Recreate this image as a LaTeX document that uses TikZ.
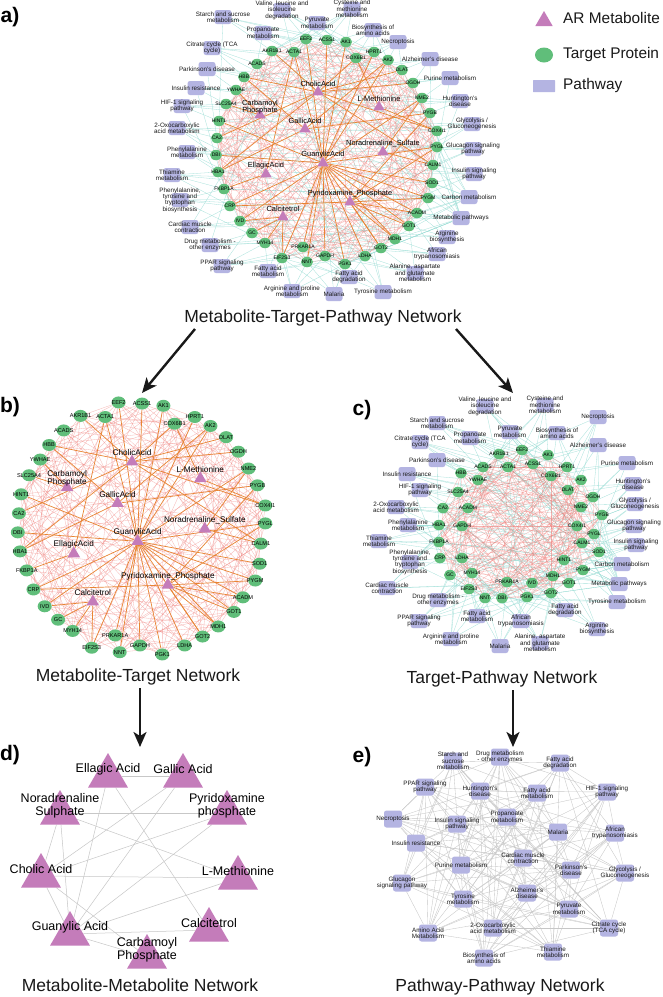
\documentclass[tikz,border=0pt]{standalone}
\usepackage{fontspec}
\setmainfont{Liberation Sans}
\usetikzlibrary{positioning,shapes.geometric,arrows.meta}

\definecolor{metabcol}{RGB}{196,124,186}
\definecolor{targetcol}{RGB}{96,190,122}
\definecolor{pathcol}{RGB}{180,180,226}
\definecolor{mtcol}{RGB}{232,132,50}
\definecolor{ttcol}{RGB}{240,120,115}
\definecolor{tpcol}{RGB}{150,220,212}

\pgfdeclarelayer{bg}
\pgfdeclarelayer{edges}
\pgfsetlayers{bg,edges,main}

% name / x,y in a / x,y in c
\newcommand\targets{EEF2/306/39/522/450, ACSS1/327/40/533/464, AK1/346/42/548/455,
AKR1B1/272/51/499/454, ACTA1/294/52/508/467, HPRT1/374/52/567/467, COX6B1/356/58/551/476,
AK2/388/60/581/480, ACADS/257/64/483/467, DLAT/402/70/568/490, HBB/244/77/461/473,
OGDH/413/83/593/497, YWHAE/236/90/478/480, NME2/422/98/581/507, SLC25A4/226/104/458/492,
PYGB/430/113/602/515, HINT1/219/121/564/560, COX4I1/437/131/577/526, CA2/217/138/443/508,
PYGL/437/147/594/534, DBI/216/155/502/598, CALM1/433/165/582/543, HBA1/218/172/439/525,
SOD1/432/183/599/552, FKBP1A/224/189/439/542, PYGM/428/198/583/570, CRP/230/206/440/558,
ACADM/417/213/468/508, IVD/240/221/532/583, GOT1/409/226/569/583, GC/252/233/450/575,
MDH1/395/239/553/576, MYH14/265/243/472/573, GOT2/381/248/551/593, PRKAR1A/303/247/507/582,
LDHA/365/256/462/558, GAPDH/325/256/462/526, EIF2S3/282/258/469/589, NNT/307/262/485/598,
PGK1/345/264/527/597}

\newcommand\metabs{Cholic/318/92/CholicAcid, LMet/379/107/L-Methionine,
Carb/260/115/{Carbamoyl\\Phosphate}, Gallic/305/129/GallicAcid,
Nora/383/152/Noradrenaline\_Sulfate, Guan/323/163/GuanylicAcid,
Ellagic/266/174/EllagicAcid, Pyri/350/202/Pyridoxamine\_Phosphate, Calci/283/217/Calcitetrol}

% name / x,y in a / x,y in c / text
\newcommand\pathways{val/282/10/485/406/{Valine, leucine and\\isoleucine\\degradation},
cys/352/9/545/405/{Cysteine and\\methionine\\metabolism},
sta/223/17/437/423/{Starch and sucrose\\metabolism},
pyr/317/23/510/432/{Pyruvate\\metabolism},
bio/373/30/557/433/{Biosynthesis of\\amino acids},
pro/263/33/470/438/{Propanoate\\metabolism},
nec/398/42/598/417/{Necroptosis},
cit/212/48/420/442/{Citrate cycle (TCA\\cycle)},
alz/430/59/598/445/{Alzheimer's disease},
par/207/69/437/460/{Parkinson's disease},
pur/450/78/627/463/{Purine metabolism},
ire/196/88/407/474/{Insulin resistance},
hun/460/101/633/484/{Huntington's\\disease},
hif/182/106/420/490/{HIF-1 signaling\\pathway},
gly/472/124/635/504/{Glycolysis /\\Gluconeogenesis},
oxo/177/128/396/507/{2-Oxocarboxylic\\acid metabolism},
glu/473/149/634/526/{Glucagon signaling\\pathway},
phe/187/152/408/525/{Phenylalanine\\metabolism},
isp/474/174/636/545/{Insulin signaling\\pathway},
thi/172/175/379/541/{Thiamine\\metabolism},
car/469/197/622/564/{Carbon metabolism},
pty/180/200/410/562/{Phenylalanine,\\tyrosine and\\tryptophan\\biosynthesis},
met/461/218/619/584/{Metabolic pathways},
cmc/190/227/387/588/{Cardiac muscle\\contraction},
arb/447/237/597/629/{Arginine\\biosynthesis},
dru/210/245/438/600/{Drug metabolism -\\other enzymes},
afr/437/254/521/621/{African\\trypanosomiasis},
ppa/222/266/419/621/{PPAR signaling\\pathway},
fam/268/271/477/616/{Fatty acid\\metabolism},
ala/415/273/540/643/{Alanine, aspartate\\and glutamate\\metabolism},
fad/349/277/565/610/{Fatty acid\\degradation},
arp/292/291/451/639/{Arginine and proline\\metabolism},
mal/334/294/500/646/{Malaria},
tyr/383/292/617/602/{Tyrosine metabolism}}

\newcommand\pathwaysE{sta/453/761/{Starch and\\sucrose\\metabolism},
dru/500/757/{Drug metabolism\\- other enzymes}, fad/560/763/{Fatty acid\\degradation},
ppa/425/787/{PPAR signaling\\pathway}, hun/480/791/{Huntington's\\disease},
fam/537/793/{Fatty acid\\metabolism}, hif/607/792/{HIF-1 signaling\\pathway},
nec/393/819/{Necroptosis}, isp/457/824/{Insulin signaling\\pathway},
pro/507/817/{Propanoate\\metabolism}, mal/558/832/{Malaria},
afr/615/833/{African\\trypanosomiasis}, ire/416/843/{Insulin resistance},
pur/461/865/{Purine metabolism}, cmc/523/858/{Cardiac muscle\\contraction},
par/571/870/{Parkinson's\\disease}, gly/625/873/{Glycolysis /\\Gluconeogenesis},
glu/402/883/{Glucagon\\signaling pathway}, alz/527/893/{Alzheimer's\\disease},
tyr/463/899/{Tyrosine\\metabolism}, pyr/569/909/{Pyruvate\\metabolism},
cit/609/928/{Citrate cycle\\(TCA cycle)}, ami/428/933/{Amino Acid\\Metabolism},
oxo/493/928/{2-Oxocarboxylic\\acid metabolism}, thi/553/952/{Thiamine\\metabolism},
bio/484/958/{Biosynthesis of\\amino acids}}

\newcommand\metabsD{ell/108/771/{Ellagic Acid}, gal/183/771/{Gallic Acid},
nor/60/808/{Noradrenaline\\Sulphate}, pyx/227/808/{Pyridoxamine\\phosphate},
cho/41/871/{Cholic Acid}, lme/238/873/{L-Methionine}, gua/70/929/{Guanylic Acid},
cal/209/925/{Calcitetrol}, cbp/147/952/{Carbamoyl\\Phosphate}}

\newcommand\mtedges{Guan/ACSS1, Guan/AK1, Guan/HPRT1, Guan/AK2, Guan/NME2, Guan/PYGL,
Guan/SOD1, Guan/PYGM, Guan/ACADM, Guan/GOT1, Guan/MDH1, Guan/GOT2, Guan/LDHA, Guan/PGK1,
Guan/GAPDH, Guan/NNT, Guan/PRKAR1A, Guan/EIF2S3, Guan/CRP, Guan/DBI, Guan/HINT1,
Guan/ACTA1, Guan/EEF2, Guan/IVD, Cholic/HBB, Cholic/AKR1B1, Cholic/OGDH, Cholic/DLAT,
Cholic/COX4I1, Cholic/CALM1, Cholic/HBA1, Cholic/CA2, Cholic/COX6B1, LMet/COX6B1,
LMet/COX4I1, Carb/YWHAE, Carb/SLC25A4, Gallic/HBA1, Gallic/HBB, Gallic/AK2, Gallic/PYGB,
Nora/NME2, Nora/CALM1, Ellagic/FKBP1A, Ellagic/ACTA1, Pyri/PYGB, Pyri/PYGL, Pyri/PYGM,
Pyri/GOT1, Pyri/GOT2, Pyri/MDH1, Pyri/ACADM, Pyri/CRP, Calci/GC, Calci/MYH14,
Calci/IVD, Calci/EIF2S3}

\newcommand\mmedges{ell/gal, ell/gua, ell/cal, gal/cho, gal/gua, nor/pyx, nor/lme,
nor/cho, nor/gua, pyx/cho, pyx/gua, cho/lme, cho/gua, cho/cbp, lme/gua, gua/cal, gua/cbp}

\begin{document}
\begin{tikzpicture}[x=1pt, y=-1pt,
target/.style={ellipse, fill=targetcol, minimum width=12pt, minimum height=10.5pt,
  inner sep=0pt, font=\fontsize{5}{5}\selectfont},
targetb/.style={minimum width=14pt, minimum height=12pt, font=\fontsize{5.6}{6}\selectfont},
metab/.style={regular polygon, regular polygon sides=3, fill=metabcol,
  minimum size=13pt, inner sep=0pt},
metabb/.style={minimum size=14.5pt},
metabd/.style={metab, minimum size=46pt},
metlbl/.style={font=\fontsize{7.4}{7.6}\selectfont, align=center, inner sep=0pt},
metlblb/.style={font=\fontsize{8.2}{8.4}\selectfont},
mmlbl/.style={font=\fontsize{12.5}{12.5}\selectfont, align=center, inner sep=0pt},
pathsq/.style={rectangle, rounded corners=2.5pt, fill=pathcol, minimum width=17pt,
  minimum height=14pt, inner sep=0pt},
pathe/.style={minimum width=18pt, minimum height=17pt},
pathlbl/.style={font=\fontsize{6.3}{6.4}\selectfont, align=center, inner sep=0pt, text=black!90},
ttl/.style={font=\fontsize{17.5}{20}\selectfont, inner sep=0pt, text=black!90},
panel/.style={font=\fontsize{21}{21}\selectfont\bfseries, inner sep=0pt},
legtxt/.style={font=\fontsize{15.4}{16}\selectfont, inner sep=0pt, text=black!90},
ttedge/.style={draw=ttcol, line width=0.3pt, opacity=0.55},
tpedge/.style={draw=tpcol, line width=0.3pt, opacity=0.85},
mtedge/.style={draw=mtcol, line width=0.7pt},
mmedge/.style={draw=black!22, line width=0.5pt},
ppedge/.style={draw=black!22, line width=0.35pt},
flow/.style={-{Stealth[length=15pt,width=13pt,inset=4pt]}, line width=2.4pt, black!90}]

\begin{pgfonlayer}{bg}
\fill[white] (0,0) rectangle (662,997);
\end{pgfonlayer}
\useasboundingbox (0,0) rectangle (662,997);

% panel letters
\node[panel] (lbl-a) at (10,17) {a)};
\node[panel] (lbl-b) at (10,407) {b)};
\node[panel] (lbl-c) at (362,410) {c)};
\node[panel] (lbl-d) at (10,755) {d)};
\node[panel] (lbl-e) at (362,757) {e)};

% legend
\node[metab, minimum size=20pt] (leg-m) at (544,21) {};
\node[legtxt] (leg-m-t) [right=19pt of leg-m.center, yshift=3pt] {AR Metabolite};
\node[target, minimum width=18pt, minimum height=15pt] (leg-t) at (544,55) {};
\node[legtxt] (leg-t-t) [right=19pt of leg-t.center] {Target Protein};
\node[pathsq, minimum width=22pt, minimum height=12pt, rounded corners=0.5pt] (leg-p) at (544,86) {};
\node[legtxt] (leg-p-t) [right=19pt of leg-p.center] {Pathway};

% targets of a, b (a scaled) and c
\foreach \n/\xa/\ya/\xc/\yc [count=\i] in \targets {
  \node[target, alias=a\i] (a-\n) at (\xa,\ya) {\makebox[0pt]{\n}};
  \node[target, targetb, alias=b\i] (b-\n) at ({141+1.12*(\xa-326)},{529+1.12*(\ya-152)}) {\makebox[0pt]{\n}};
  \node[target, alias=c\i] (c-\n) at (\xc,\yc) {\makebox[0pt]{\n}};
}

% metabolites of a and b
\foreach \n/\xa/\ya/\t in \metabs {
  \node[metab] (a-\n) at (\xa,\ya) {};
  \node[metlbl] (a-\n-l) at (\xa,\ya-8) {\t};
  \node[metab, metabb] (b-\n) at ({141+1.12*(\xa-326)},{529+1.12*(\ya-152)}) {};
  \node[metlbl, metlblb] (b-\n-l) at ({141+1.12*(\xa-326)},{529+1.12*(\ya-160)}) {\t};
}

% pathways of a and c
\foreach \n/\xa/\ya/\xc/\yc/\t [count=\p] in \pathways {
  \node[pathsq, alias=pa\p] (a-\n) at (\xa,\ya) {};
  \node[pathlbl] (a-\n-t) at (\xa,\ya) {\t};
  \node[pathsq, alias=pc\p] (c-\n) at (\xc,\yc) {};
  \node[pathlbl] (c-\n-t) at (\xc,\yc) {\t};
}

% metabolite-metabolite
\foreach \n/\x/\y/\t in \metabsD {
  \node[metabd] (d-\n) at (\x,\y+5) {};
  \node[mmlbl] (d-\n-l) at (\x,\y-2) {\t};
}

% pathway-pathway
\foreach \n/\x/\y/\t [count=\p] in \pathwaysE {
  \node[pathsq, pathe, alias=e\p] (e-\n) at (\x,\y) {};
  \node[pathlbl] (e-\n-t) at (\x,\y) {\t};
}

% titles
\node[ttl] (ttl-a) at (323,318) {Metabolite-Target-Pathway Network};
\node[ttl] (ttl-b) at (138,677) {Metabolite-Target Network};
\node[ttl] (ttl-c) at (502,679) {Target-Pathway Network};
\node[ttl] (ttl-d) at (140,985) {Metabolite-Metabolite Network};
\node[ttl] (ttl-e) at (500,987) {Pathway-Pathway Network};

% arrows between panels
\coordinate (ab-from) at (195,329);
\coordinate (ab-to) at (142,393);
\coordinate (ac-from) at (456,329);
\coordinate (ac-to) at (513,393);
\coordinate (bd-from) at (140,688);
\coordinate (bd-to) at (140,747);
\coordinate (ce-from) at (513,690);
\coordinate (ce-to) at (513,747);
\draw[flow] (ab-from) -- (ab-to);
\draw[flow] (ac-from) -- (ac-to);
\draw[flow] (bd-from) -- (bd-to);
\draw[flow] (ce-from) -- (ce-to);

\begin{pgfonlayer}{edges}
% target-pathway
\foreach \p in {1,...,34}{
  \pgfmathtruncatemacro\i{round(\p*40/34)}
  \foreach \k in {-1,0,1,2,13}{
    \pgfmathtruncatemacro\j{mod(\i+\k+39,40)+1}
    \draw[tpedge] (pa\p) -- (a\j);
    \draw[tpedge] (pc\p) -- (c\j);
  }}
\foreach \i in {4,8,...,40}{
  \draw[tpedge] (a-met) -- (a\i);
  \draw[tpedge] (c-met) -- (c\i);
}
\foreach \i in {5,10,...,40}{
  \draw[tpedge] (a-car) -- (a\i);
  \draw[tpedge] (c-car) -- (c\i);
}
% target-target
\foreach \g in {a,b,c}{
  \foreach \i in {1,...,40}{
    \foreach \k in {3,8,13,16,19}{
      \pgfmathtruncatemacro\j{mod(\i+\k-1,40)+1}
      \draw[ttedge] (\g\i) -- (\g\j);
    }}}
% metabolite-target
\foreach \m/\t in \mtedges {
  \draw[mtedge] (a-\m) -- (a-\t);
  \draw[mtedge] (b-\m) -- (b-\t);
}
% metabolite-metabolite
\foreach \u/\v in \mmedges
  \draw[mmedge] (d-\u) -- (d-\v);
% pathway-pathway
\foreach \p in {1,...,26}{
  \foreach \k in {2,4,5,7,9,12}{
    \pgfmathtruncatemacro\q{mod(\p+\k-1,26)+1}
    \draw[ppedge] (e\p) -- (e\q);
  }}
\end{pgfonlayer}
\end{tikzpicture}
\end{document}
